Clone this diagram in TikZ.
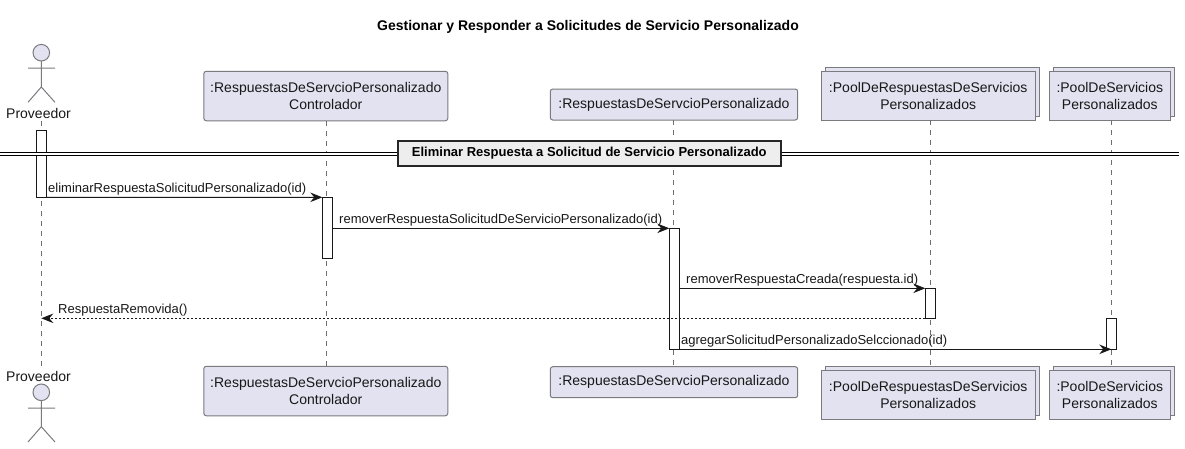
\documentclass[tikz,border=0pt]{standalone}
\usepackage{fontspec}
\setmainfont{Liberation Sans}
\usetikzlibrary{arrows.meta,shadows}
\definecolor{boxfill}{HTML}{E2E2F0}
\definecolor{boxline}{HTML}{7A7A7F}
\definecolor{ink}{HTML}{181818}
\definecolor{lifeline}{HTML}{6E6E6E}
\definecolor{divfill}{HTML}{EEEEEE}
\newfontfamily\partfont[LetterSpace=0]{Liberation Sans}
\newfontfamily\msgfont[LetterSpace=0]{Liberation Sans}
\tikzset{
  base/.style={line width=1pt},
  part/.style={base,draw=boxline,fill=boxfill,inner sep=0pt,outer sep=0pt,align=center,text=ink,
    font=\fontsize{14}{16.5}\selectfont\partfont},
  partround/.style={part,rounded corners=2.5pt},
  partstack/.style={part,copy shadow={shadow xshift=4pt,shadow yshift=4pt,draw=boxline,fill=boxfill}},
  actor/.style={base,draw=boxline},
  actorhead/.style={base,draw=boxline,fill=boxfill,circle,minimum size=16.6pt,inner sep=0pt,outer sep=0pt},
  actorlabel/.style={text=ink,inner sep=0pt,font=\fontsize{14}{16}\selectfont\partfont},
  lifelinestyle/.style={base,draw=lifeline,dash pattern=on 5pt off 5pt},
  act/.style={base,draw=ink,fill=white,minimum width=10pt,inner sep=0pt,outer sep=0pt},
  msg/.style={base,draw=ink,-{Stealth[length=12pt,width=9.5pt,inset=4pt,fill=ink]}},
  ret/.style={msg,dash pattern=on 2pt off 2pt},
  msglabel/.style={anchor=base west,inner sep=0pt,text=ink,font=\fontsize{13}{15}\selectfont\msgfont},
  divline/.style={line width=1.1pt,draw=black},
  divbox/.style={line width=2pt,draw=black!85,fill=divfill,inner sep=0pt,minimum width=383pt,minimum height=25pt,
    font=\fontsize{13}{15}\selectfont\bfseries\msgfont,text=black},
  titlelabel/.style={inner sep=0pt,anchor=base,font=\fontsize{14}{16}\selectfont\bfseries\msgfont,text=black}
}
\begin{document}
\begin{tikzpicture}[x=1pt,y=-1pt]
\useasboundingbox (0,0) rectangle (1185,448);
\fill[white] (0,0) rectangle (1185,448);
\node[titlelabel] (title) at (588,30) {Gestionar y Responder a Solicitudes de Servicio Personalizado};

% participants, top
\node[actorhead] (h1) at (41.3,52.7) {};
\coordinate (hip1) at (41.3,87);
\coordinate (armL1) at (28,68); \coordinate (armR1) at (55,68);
\coordinate (legL1) at (28,102.3); \coordinate (legR1) at (55,102.3);
\draw[actor] (h1.south) -- (hip1) (armL1) -- (armR1) (legL1) -- (hip1) -- (legR1);
\node[actorlabel] (p1) at (38.5,113.5) {Proveedor};
\node[partround,minimum width=244pt,minimum height=49.5pt] (p2) at (325.8,96) {:RespuestasDeServcioPersonalizado\\Controlador};
\node[partround,minimum width=247.4pt,minimum height=31pt] (p3) at (674,104.5) {:RespuestasDeServcioPersonalizado};
\node[partstack,minimum width=213.7pt,minimum height=49pt] (p4) at (928.2,95.8) {:PoolDeRespuestasDeServicios\\Personalizados};
\node[partstack,minimum width=121pt,minimum height=49pt] (p5) at (1109.8,95.8) {:PoolDeServicios\\Personalizados};

% participants, bottom
\node[actorlabel] (q1) at (38.5,376) {Proveedor};
\node[actorhead] (h2) at (41.3,392.3) {};
\coordinate (hip2) at (41.3,426.7);
\coordinate (armL2) at (28,408); \coordinate (armR2) at (55,408);
\coordinate (legL2) at (28,442); \coordinate (legR2) at (55,442);
\draw[actor] (h2.south) -- (hip2) (armL2) -- (armR2) (legL2) -- (hip2) -- (legR2);
\node[partround,minimum width=244pt,minimum height=49.5pt] (q2) at (325.8,391) {:RespuestasDeServcioPersonalizado\\Controlador};
\node[partround,minimum width=247.4pt,minimum height=31pt] (q3) at (674,382.2) {:RespuestasDeServcioPersonalizado};
\node[partstack,minimum width=213.7pt,minimum height=49pt] (q4) at (928.2,394.8) {:PoolDeRespuestasDeServicios\\Personalizados};
\node[partstack,minimum width=121pt,minimum height=49pt] (q5) at (1109.8,394.8) {:PoolDeServicios\\Personalizados};

% lifelines
\coordinate (top1) at (41.3,121); \coordinate (bot1) at (41.3,366);
\coordinate (top2) at (326.3,121); \coordinate (bot2) at (326.3,366);
\coordinate (top3) at (673.3,120); \coordinate (bot3) at (673.3,366.7);
\coordinate (top4) at (930.3,120.3); \coordinate (bot4) at (930.3,366.3);
\coordinate (top5) at (1111.3,120.3); \coordinate (bot5) at (1111.3,366.3);
\foreach \k in {1,...,5} \draw[lifelinestyle] (top\k) -- (bot\k);

% activations
\node[act,minimum height=66.3pt] (a1) at (41.3,164.1) {};
\node[act,minimum height=61pt] (a2) at (327.3,227.8) {};
\node[act,minimum height=121pt] (a3) at (674.3,288.8) {};
\node[act,minimum height=30pt] (a4) at (930.3,303.3) {};
\node[act,minimum height=31pt] (a5) at (1111.3,333.8) {};

% divider
\coordinate (divL) at (-2,152.3); \coordinate (divR) at (1179,152.3);
\coordinate (divL2) at (-2,155.3); \coordinate (divR2) at (1179,155.3);
\fill[white] (divL) rectangle (divR2);
\draw[divline] (divL) -- (divR) (divL2) -- (divR2);
\node[divbox] (div) at (589.3,153.2) {Eliminar Respuesta a Solicitud de Servicio Personalizado};

% messages
\draw[msg] (a1.south east) -- (a2.north west);
\node[msglabel] (m1) at (48,192) {eliminarRespuestaSolicitudPersonalizado(id)};
\coordinate (s2) at (a3.north west -| a2.east);
\draw[msg] (s2) -- (a3.north west);
\node[msglabel] (m2) at (339,223) {removerRespuestaSolicitudDeServicioPersonalizado(id)};
\coordinate (s3) at (a4.north west -| a3.east);
\draw[msg] (s3) -- (a4.north west);
\node[msglabel] (m3) at (686,283) {removerRespuestaCreada(respuesta.id)};
\coordinate (e4) at (a4.south west -| top1);
\draw[ret] (a4.south west) -- (e4);
\node[msglabel] (m4) at (58,313) {RespuestaRemovida()};
\draw[msg] (a3.south west) -- (a5.south);
\node[msglabel] (m5) at (681,344) {agregarSolicitudPersonalizadoSelccionado(id)};
\end{tikzpicture}
\end{document}
